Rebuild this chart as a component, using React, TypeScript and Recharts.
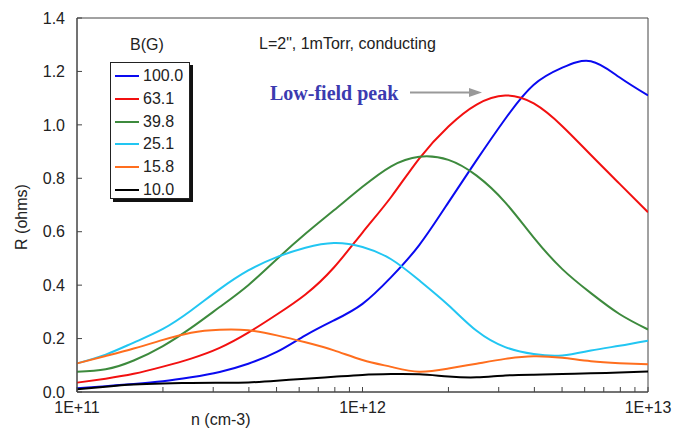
import React from 'react';
import { LineChart, Line, XAxis, YAxis, ReferenceArea } from 'recharts';

// densities n (cm-3), log spaced samples
const nValues = [
  1.0e11, 1.26e11, 1.58e11, 2.0e11, 2.51e11, 3.16e11, 3.98e11, 5.01e11, 6.31e11, 7.94e11,
  1.0e12, 1.26e12, 1.58e12, 2.0e12, 2.51e12, 3.16e12, 3.98e12, 5.01e12, 6.31e12, 7.94e12, 1.0e13,
];

const b100 = [0.014, 0.022, 0.03, 0.04, 0.055, 0.075, 0.106, 0.15, 0.212, 0.268, 0.33, 0.43, 0.55, 0.71, 0.868, 1.022, 1.15, 1.214, 1.238, 1.178, 1.11];
const b631 = [0.035, 0.05, 0.068, 0.095, 0.125, 0.165, 0.222, 0.29, 0.365, 0.466, 0.597, 0.73, 0.874, 0.994, 1.076, 1.11, 1.08, 0.995, 0.887, 0.78, 0.673];
const b398 = [0.076, 0.085, 0.118, 0.172, 0.24, 0.318, 0.4, 0.497, 0.592, 0.68, 0.768, 0.845, 0.881, 0.869, 0.81, 0.71, 0.578, 0.46, 0.37, 0.292, 0.234];
const b251 = [0.107, 0.14, 0.185, 0.236, 0.305, 0.385, 0.455, 0.505, 0.54, 0.558, 0.543, 0.497, 0.418, 0.325, 0.229, 0.168, 0.142, 0.137, 0.155, 0.173, 0.192];
const b158 = [0.107, 0.135, 0.163, 0.195, 0.222, 0.233, 0.231, 0.212, 0.186, 0.156, 0.12, 0.094, 0.076, 0.088, 0.106, 0.124, 0.134, 0.128, 0.115, 0.108, 0.104];
const b100low = [0.01, 0.02, 0.028, 0.032, 0.034, 0.035, 0.036, 0.042, 0.05, 0.057, 0.064, 0.067, 0.066, 0.058, 0.055, 0.062, 0.065, 0.067, 0.07, 0.073, 0.077];

const seriesNames = ['100.0', '63.1', '39.8', '25.1', '15.8', '10.0'];
const seriesKeys = ['s1', 's2', 's3', 's4', 's5', 's6'];
const seriesColors = ['#0a0af0', '#f21010', '#3d8a3d', '#22c6f2', '#ff6e1e', '#000000'];
const seriesValues = [b100, b631, b398, b251, b158, b100low];

const xTicks = [
  1e11, 2e11, 3e11, 4e11, 5e11, 6e11, 7e11, 8e11, 9e11,
  1e12, 2e12, 3e12, 4e12, 5e12, 6e12, 7e12, 8e12, 9e12, 1e13,
];
const yTicks = [0, 0.2, 0.4, 0.6, 0.8, 1.0, 1.2, 1.4];

const data = nValues.map((n, i) => {
  const row: Record<string, number> = { n };
  seriesKeys.forEach((k, j) => {
    row[k] = seriesValues[j][i];
  });
  return row;
});

const fmtX = (v: number) => {
  const e = Math.log10(v);
  if (Math.abs(e - Math.round(e)) < 1e-6) return `1E+${Math.round(e)}`;
  return '';
};

const font = '"Liberation Sans", Arial, sans-serif';

export default function App() {
  return (
    <div style={{ position: 'absolute', left: 0, top: 0, width: 686, height: 438, background: '#fff', fontFamily: font }}>
      <LineChart width={686} height={438} data={data} margin={{ top: 18, right: 38, bottom: 0, left: 0 }}>
        <XAxis
          dataKey="n"
          type="number"
          scale="log"
          domain={[1e11, 1e13]}
          ticks={xTicks}
          tickFormatter={fmtX}
          interval={0}
          height={46}
          tickSize={-5}
          tickMargin={15}
          stroke="#444"
          tick={{ fill: '#222', fontSize: 16, fontFamily: font }}
          allowDataOverflow
        />
        <YAxis
          type="number"
          domain={[0, 1.4]}
          ticks={yTicks}
          tickFormatter={(v: number) => v.toFixed(1)}
          width={77}
          tickSize={-5}
          tickMargin={17}
          stroke="#444"
          tick={{ fill: '#222', fontSize: 16, fontFamily: font }}
          interval={0}
        />
        <ReferenceArea x1={1e11} x2={1e13} y1={0} y2={1.4} fill="none" stroke="#444" strokeWidth={1} />
        {seriesKeys.map((k, j) => (
          <Line
            key={k}
            dataKey={k}
            type="natural"
            stroke={seriesColors[j]}
            strokeWidth={2}
            dot={false}
            isAnimationActive={false}
          />
        ))}
      </LineChart>

      {/* axis titles */}
      <div style={{ position: 'absolute', left: 191, top: 411, fontSize: 16, color: '#222', whiteSpace: 'nowrap' }}>n (cm-3)</div>
      <div
        style={{
          position: 'absolute',
          left: 22,
          top: 217,
          fontSize: 16,
          color: '#222',
          whiteSpace: 'nowrap',
          transform: 'translate(-50%, -50%) rotate(-90deg)',
        }}
      >
        R (ohms)
      </div>

      {/* annotation */}
      <div style={{ position: 'absolute', left: 259, top: 35, fontSize: 16, color: '#222', whiteSpace: 'nowrap' }}>
        L=2", 1mTorr, conducting
      </div>
      <div
        style={{
          position: 'absolute',
          left: 270,
          top: 82,
          fontSize: 20,
          fontWeight: 'bold',
          fontFamily: '"Liberation Serif", "Times New Roman", serif',
          color: '#3b3bb0',
          whiteSpace: 'nowrap',
        }}
      >
        Low-field peak
      </div>
      <svg style={{ position: 'absolute', left: 0, top: 0 }} width={686} height={438} pointerEvents="none">
        <line x1={410} y1={92.5} x2={472} y2={92.5} stroke="#999" strokeWidth={2} />
        <polygon points="482,92.5 469,88 469,97" fill="#999" />
      </svg>

      {/* legend */}
      <div style={{ position: 'absolute', left: 130, top: 36, fontSize: 16, color: '#222', whiteSpace: 'nowrap' }}>B(G)</div>
      <div
        style={{
          position: 'absolute',
          left: 110,
          top: 62,
          width: 80,
          height: 137,
          border: '1px solid #222',
          background: '#fff',
          boxShadow: '3px 3px 0 #111',
          boxSizing: 'border-box',
        }}
      >
        {seriesNames.map((name, j) => (
          <div key={name} style={{ position: 'absolute', left: 4, top: 3 + j * 22.8, height: 20, display: 'flex', alignItems: 'center' }}>
            <div style={{ width: 24, height: 2, background: seriesColors[j] }} />
            <span style={{ marginLeft: 4, fontSize: 16, color: '#222' }}>{name}</span>
          </div>
        ))}
      </div>
    </div>
  );
}
